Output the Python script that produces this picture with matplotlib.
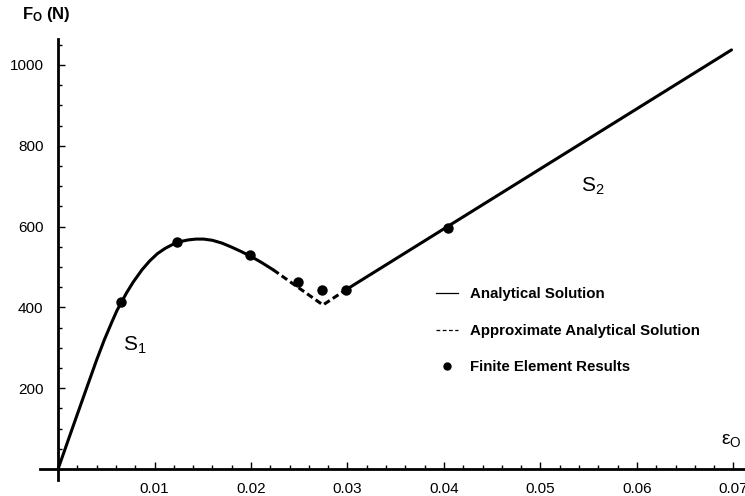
import matplotlib
matplotlib.use("Agg")
import matplotlib.pyplot as plt
from matplotlib.lines import Line2D
from matplotlib.ticker import MultipleLocator, FixedLocator

plt.rcParams['font.family'] = ['Liberation Sans', 'DejaVu Sans']
plt.rcParams['mathtext.fontset'] = 'custom'
plt.rcParams['mathtext.rm'] = 'Liberation Sans'
plt.rcParams['mathtext.it'] = 'Liberation Sans'
plt.rcParams['mathtext.bf'] = 'Liberation Sans:bold'

# branch S1: analytical solution (solid)
s1_strain = [0.0, 0.0015, 0.0030, 0.0040, 0.0048, 0.0056, 0.0061, 0.0066,
             0.0071, 0.0078, 0.0087, 0.0095, 0.0103, 0.0111, 0.0119, 0.0127,
             0.0135, 0.0143, 0.0151, 0.0160, 0.0170, 0.0180, 0.0190, 0.0200,
             0.0211, 0.0223]
s1_force = [0, 102, 203, 270, 320, 365, 392, 414,
            436, 463, 493, 515, 533, 546, 556, 563,
            567, 569, 569, 566, 559, 549, 538, 526,
            511, 493]

# transition: approximate analytical solution (dashed)
approx_strain = [0.0223, 0.02746, 0.0298]
approx_force = [493, 406, 443]

# branch S2: analytical solution (solid)
s2_strain = [0.0298, 0.0698]
s2_force = [443, 1037]

# finite element results
fe_strain = [0.00653, 0.01233, 0.0199, 0.0249, 0.0274, 0.0298, 0.0404]
fe_force = [414, 561, 530, 462, 443, 443, 596]

x_ticks = [0.01, 0.02, 0.03, 0.04, 0.05, 0.06, 0.07]
x_labels = ['0.01', '0.02', '0.03', '0.04', '0.05', '0.06', '0.07']
y_ticks = [200, 400, 600, 800, 1000]
y_labels = ['200', '400', '600', '800', '1000']

fig = plt.figure(figsize=(7.45, 4.96), dpi=100)
ax = fig.add_axes([40 / 745, 16 / 496, 705 / 745, 441 / 496])

lw = 2.2
ax.plot(s1_strain, s1_force, color='black', lw=lw, solid_capstyle='round',
        solid_joinstyle='round')
ax.plot(approx_strain, approx_force, color='black', lw=lw, ls=(0, (2.2, 1.2)))
ax.plot(s2_strain, s2_force, color='black', lw=lw, solid_capstyle='round')
ax.plot(fe_strain, fe_force, 'o', color='black', ms=6.5, zorder=5)

ax.set_xlim(-0.00187, 0.0712)
ax.set_ylim(-27, 1064)

for side in ('top', 'right'):
    ax.spines[side].set_visible(False)
for side in ('left', 'bottom'):
    ax.spines[side].set_position(('data', 0))
    ax.spines[side].set_linewidth(2.0)

ax.xaxis.set_major_locator(FixedLocator(x_ticks))
ax.set_xticklabels(x_labels)
ax.xaxis.set_minor_locator(MultipleLocator(0.002))
ax.yaxis.set_major_locator(FixedLocator(y_ticks))
ax.set_yticklabels(y_labels)
ax.yaxis.set_minor_locator(MultipleLocator(50))

ax.tick_params(which='both', direction='in', width=1.0, labelsize=11, pad=9)
ax.tick_params(axis='y', pad=10.5)
ax.tick_params(which='major', length=5)
ax.tick_params(which='minor', length=3)

# branch labels
ax.text(0.0067, 305, r'$\mathregular{S_1}$', fontsize=15, va='center', ha='left')
ax.text(0.0542, 700, r'$\mathregular{S_2}$', fontsize=15, va='center', ha='left')

# axis titles
fig.text(22 / 745, 1 - 15 / 496, r'$\mathbf{F_O}$ (N)', fontsize=12,
         fontweight='bold', va='center', ha='left')
fig.text(721 / 745, 1 - 440 / 496, r'$\varepsilon_O$', fontsize=14,
         va='center', ha='left', family='DejaVu Serif')

handles = [
    Line2D([], [], color='black', lw=0.9),
    Line2D([], [], color='black', lw=0.9, ls=(0, (3, 2))),
    Line2D([], [], color='black', ls='none', marker='o', ms=5),
]
labels = ['Analytical Solution', 'Approximate Analytical Solution',
          'Finite Element Results']
ax.legend(handles, labels, loc='center left', bbox_to_anchor=(0.5617, 0.338),
          frameon=False, prop={'size': 10.8, 'weight': 'bold'},
          handlelength=1.45, handletextpad=0.85, labelspacing=1.5,
          borderpad=0, borderaxespad=0)

fig.savefig('out.png', dpi=100)
